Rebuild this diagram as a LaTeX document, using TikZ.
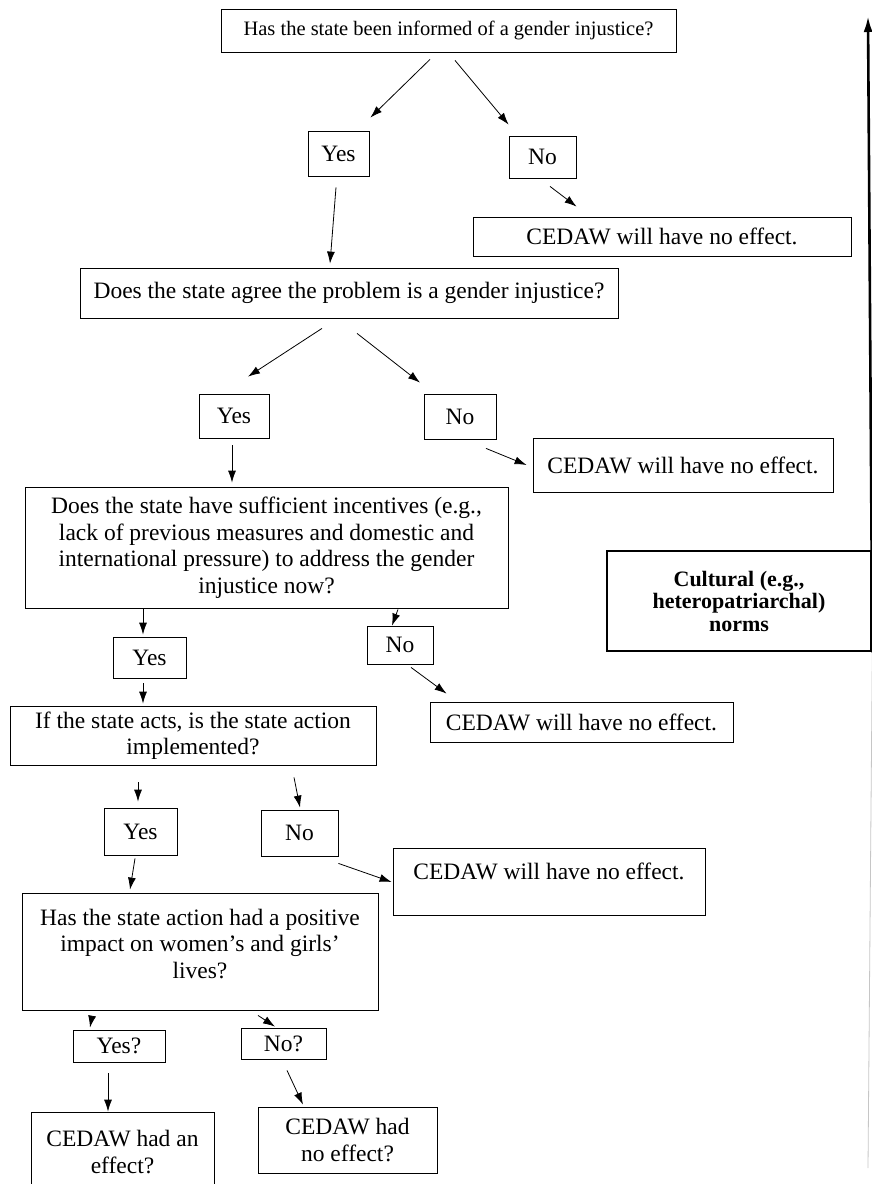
\documentclass[tikz,border=0pt]{standalone}
\usepackage{fontspec}
\setmainfont{Liberation Serif}
\usetikzlibrary{positioning, calc, arrows.meta}

\begin{document}
\begin{tikzpicture}[x=1pt, y=-1pt, >={Latex[length=12pt,width=8pt]}, font=\fontsize{23.5}{26.5}\selectfont]

    % Styles for boxes and connectors
    \tikzset{
        qbox/.style={draw, line width=0.8pt, align=center, inner sep=0pt},
        flow/.style={->, line width=0.8pt},
        normsbox/.style={draw, line width=2.6pt, align=center, inner sep=0pt, font=\fontsize{22}{22.5}\selectfont\bfseries}
    }

    \useasboundingbox (0,0) rectangle (872,1184);
    \clip (0,0) rectangle (872,1184);

    % ==========================================
    % Step 1: informed?
    % ==========================================
    \node[qbox, minimum width=455pt, minimum height=43pt, font=\fontsize{20.5}{24}\selectfont] (q1) at (448.5,30.5) {Has the state been informed of a gender injustice?};
    \node[qbox, minimum width=61pt, minimum height=45pt] (yes1) at (338.5,153.5) {Yes};
    \node[qbox, minimum width=67pt, minimum height=42pt] (no1) at (542.5,157) {No};
    \node[qbox, minimum width=378pt, minimum height=39pt] (eff1) at (662,236.5) {CEDAW will have no effect.};

    \draw[flow] ($(q1.south)+(-18.5,7)$) -- ($(yes1.north east)+(1,-13)$);
    \draw[flow] ($(q1.south)+(6.5,8)$) -- ($(no1.north west)+(0,-11)$);
    \draw[flow] ($(no1.south)+(7.5,8)$) -- ($(eff1.north west)+(104,-10)$);

    % ==========================================
    % Step 2: agreed?
    % ==========================================
    \node[qbox, minimum width=538pt, minimum height=50pt] (q2) at (349,293) {Does the state agree the problem is a gender injustice?};
    \node[qbox, minimum width=70pt, minimum height=44pt] (yes2) at (234,416) {Yes};
    \node[qbox, minimum width=72pt, minimum height=45pt] (no2) at (460,416.5) {No};
    \node[qbox, minimum width=300pt, minimum height=54pt] (eff2) at (683,465) {CEDAW will have no effect.};

    \draw[flow] ($(yes1.south)+(-2.5,11)$) -- ($(q2.north)+(-19,-4)$);
    \draw[flow] ($(q2.south)+(-27,10)$) -- ($(yes2.north)+(14,-17)$);
    \draw[flow] ($(q2.south)+(8,15)$) -- ($(no2.north)+(-40,-11)$);
    \draw[flow] ($(no2.south)+(26,9)$) -- ($(eff2.west)+(-6,0)$);

    % ==========================================
    % Step 3: incentives?
    % ==========================================
    \node[qbox, minimum width=483pt, minimum height=121pt] (q3) at (266.5,547.5) {Does the state have sufficient incentives (e.g.,\\ lack of previous measures and domestic and\\ international pressure) to address the gender\\ injustice now?};
    \node[qbox, minimum width=73pt, minimum height=41pt] (yes3) at (149.5,657.5) {Yes};
    \node[qbox, minimum width=66pt, minimum height=38pt] (no3) at (400,645) {No};
    \node[qbox, minimum width=303pt, minimum height=40pt] (eff3) at (581.5,722) {CEDAW will have no effect.};

    \draw[flow] ($(yes2.south)+(-2,7)$) -- ($(q3.north)+(-34.5,-4)$);
    \draw[flow] ($(q3.south)+(-123.5,1)$) -- ($(yes3.north)+(-6.5,-2)$);
    \draw[flow] ($(q3.south)+(131.5,1)$) -- ($(no3.north)+(-8,0)$);
    \draw[flow] ($(no3.south)+(11,3)$) -- ($(eff3.north west)+(17,-8)$);

    % Cultural norms and the long arrow on the right
    \node[normsbox, minimum width=264pt, minimum height=100pt] (norms) at (739,601) {Cultural (e.g.,\\ heteropatriarchal)\\ norms};
    \coordinate (base) at (868,1168);
    \coordinate (apex) at (868,16);
    \draw[line width=0.8pt, gray!45] (base) -- (norms.south east);
    \draw[->, line width=2.6pt, >={Latex[length=16pt,width=9pt]}] (norms.south east) -- (apex);

    % ==========================================
    % Step 4: implemented?
    % ==========================================
    \node[qbox, minimum width=366pt, minimum height=59pt] (q4) at (193,735.5) {If the state acts, is the state action\\ implemented?};
    \node[qbox, minimum width=73pt, minimum height=47pt] (yes4) at (140.5,831.5) {Yes};
    \node[qbox, minimum width=77pt, minimum height=46pt] (no4) at (299.5,833) {No};
    \node[qbox, minimum width=312pt, minimum height=67pt, text depth=20pt] (eff4) at (549,881.5) {CEDAW will have no effect.};

    \draw[flow] ($(yes3.south)+(-6.5,5)$) -- ($(q4.north)+(-50,-2)$);
    \draw[flow] ($(q4.south)+(-55,17)$) -- ($(yes4.north)+(-2.5,-6)$);
    \draw[flow] ($(q4.south)+(101,12)$) -- ($(no4.north)+(0.5,-2)$);
    \draw[flow] ($(no4.south east)+(0,7)$) -- ($(eff4.west)+(-1,0.5)$);

    % ==========================================
    % Step 5: impact?
    % ==========================================
    \node[qbox, minimum width=356pt, minimum height=117pt, text depth=16pt] (q5) at (200,951.5) {Has the state action had a positive\\ impact on women's and girls'\\ lives?};
    \node[qbox, minimum width=92pt, minimum height=32pt] (yes5) at (119,1046) {Yes?};
    \node[qbox, minimum width=85pt, minimum height=31pt] (no5) at (283.5,1043.5) {No?};
    \node[qbox, minimum width=183pt, minimum height=80pt] (eff5) at (122.5,1152) {CEDAW had an\\ effect?};
    \node[qbox, minimum width=179pt, minimum height=66pt] (eff6) at (347.5,1140) {CEDAW had\\ no effect?};

    \draw[flow] ($(yes4.south)+(-5.5,3)$) -- ($(q5.north)+(-70,-3)$);
    \draw[flow] ($(q5.south)+(-108,6)$) -- ($(yes5.north)+(-29,-2)$);
    \draw[flow] ($(q5.south)+(58,5)$) -- ($(no5.north)+(-8.5,-1)$);
    \draw[flow] ($(yes5.south)+(-11,11)$) -- ($(eff5.north)+(-14.5,0)$);
    \draw[flow] ($(no5.south)+(3.5,11)$) -- ($(eff6.north)+(-44.5,-2)$);

\end{tikzpicture}
\end{document}
